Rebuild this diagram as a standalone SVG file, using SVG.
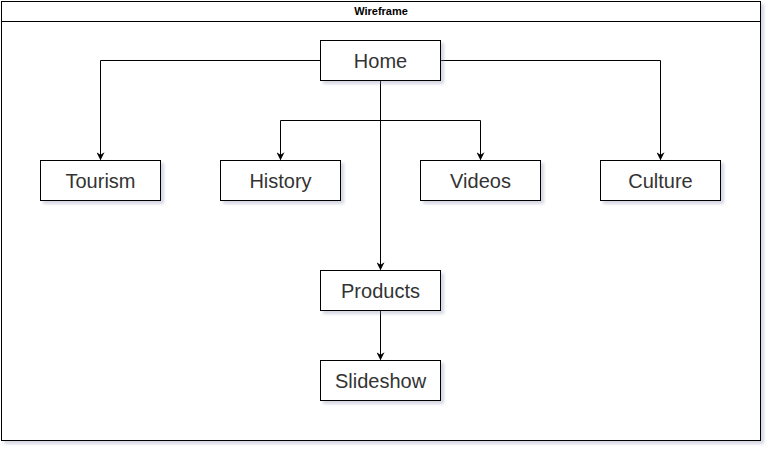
<svg xmlns="http://www.w3.org/2000/svg" width="772" height="452" viewBox="0 0 772 452">
<defs>
<filter id="sh" x="-10%" y="-10%" width="130%" height="140%">
<feGaussianBlur in="SourceAlpha" stdDeviation="1.5"/>
<feOffset dx="3" dy="3" result="b"/>
<feFlood flood-color="#8a8fb0" flood-opacity="0.35"/>
<feComposite in2="b" operator="in"/>
<feMerge><feMergeNode/><feMergeNode in="SourceGraphic"/></feMerge>
</filter>
<marker id="arr" viewBox="0 0 10 10" refX="9" refY="5" markerWidth="8" markerHeight="8" markerUnits="userSpaceOnUse" orient="auto">
<path d="M0,0 L10,5 L0,10 L3,5 Z" fill="#000"/>
</marker>
</defs>
<style>
.box{fill:#fff;stroke:#000;stroke-width:1;filter:url(#sh)}
.lbl{font-family:"Liberation Sans",Arial,sans-serif;font-size:20px;fill:#333;text-anchor:middle;dominant-baseline:central}
.con{fill:none;stroke:#000;stroke-width:1;marker-end:url(#arr)}
</style>
<g id="frame">
<rect x="1.5" y="1.5" width="759" height="439" class="box"/>
<line x1="1.5" y1="21.5" x2="760.5" y2="21.5" stroke="#000"/>
<text x="381" y="11" font-family="'Liberation Sans',Arial,sans-serif" font-size="11" font-weight="bold" fill="#000" text-anchor="middle" dominant-baseline="central">Wireframe</text>
</g>
<g id="connectors">
<path class="con" d="M320.5,60.5 H100.5 V159.5"/>
<path class="con" d="M440.5,60.5 H660.5 V159.5"/>
<path class="con" d="M380.5,80.5 V269.5"/>
<path class="con" d="M380.5,120.5 H280.5 V159.5"/>
<path class="con" d="M380.5,120.5 H480.5 V159.5"/>
<path class="con" d="M380.5,310.5 V359.5"/>
</g>
<g id="home"><rect class="box" x="320.5" y="40.5" width="120" height="40"/><text class="lbl" x="380.5" y="60.5">Home</text></g>
<g id="tourism"><rect class="box" x="40.5" y="160.5" width="120" height="40"/><text class="lbl" x="100.5" y="180.5">Tourism</text></g>
<g id="history"><rect class="box" x="220.5" y="160.5" width="120" height="40"/><text class="lbl" x="280.5" y="180.5">History</text></g>
<g id="videos"><rect class="box" x="420.5" y="160.5" width="120" height="40"/><text class="lbl" x="480.5" y="180.5">Videos</text></g>
<g id="culture"><rect class="box" x="600.5" y="160.5" width="120" height="40"/><text class="lbl" x="660.5" y="180.5">Culture</text></g>
<g id="products"><rect class="box" x="320.5" y="270.5" width="120" height="40"/><text class="lbl" x="380.5" y="290.5">Products</text></g>
<g id="slideshow"><rect class="box" x="320.5" y="360.5" width="120" height="40"/><text class="lbl" x="380.5" y="380.5">Slideshow</text></g>
</svg>
